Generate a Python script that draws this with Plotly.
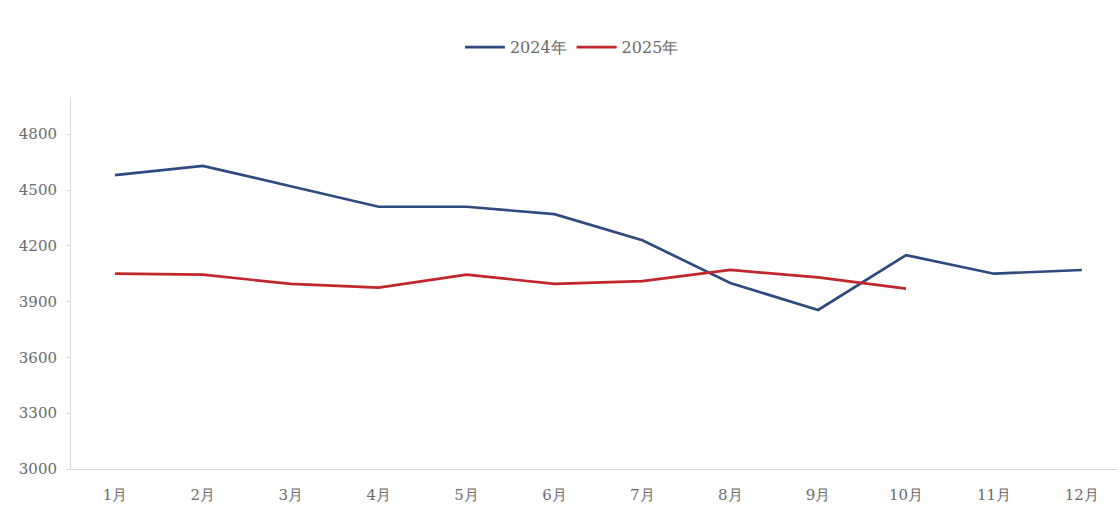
import plotly.graph_objects as go

months = ["1月", "2月", "3月", "4月", "5月", "6月", "7月", "8月", "9月", "10月", "11月", "12月"]
values_2024 = [4580, 4630, 4520, 4410, 4410, 4370, 4230, 4000, 3855, 4150, 4050, 4070]
values_2025 = [4050, 4045, 3995, 3975, 4045, 3995, 4010, 4070, 4030, 3970]
y_ticks = [3000, 3300, 3600, 3900, 4200, 4500, 4800]

font_family = "DejaVu Serif, Liberation Serif, serif"
text_color = "#6B6B6B"
axis_color = "#D9D9D9"

fig = go.Figure()
fig.add_trace(go.Scatter(
    x=months, y=values_2024, name="2024年", mode="lines",
    line=dict(color="#2E4A7E", width=2.7),
))
fig.add_trace(go.Scatter(
    x=months[:len(values_2025)], y=values_2025, name="2025年", mode="lines",
    line=dict(color="#C0272D", width=2.7),
))

fig.update_layout(
    width=1117, height=508,
    margin=dict(l=71, r=0, t=97, b=39),
    paper_bgcolor="white", plot_bgcolor="white",
    font=dict(family=font_family, size=15, color=text_color),
    showlegend=True,
    legend=dict(
        orientation="h", xref="container", yref="container",
        x=0.512, y=0.907, xanchor="center", yanchor="middle",
        font=dict(family=font_family, size=16, color=text_color),
        itemwidth=40, traceorder="normal",
    ),
    xaxis=dict(
        type="category", categoryorder="array", categoryarray=months,
        range=[-0.5, 11.4], showgrid=False, zeroline=False,
        showline=True, linecolor=axis_color, linewidth=1,
        ticks="", tickfont=dict(family=font_family, size=15, color=text_color),
        ticklabelstandoff=12,
    ),
    yaxis=dict(
        range=[3000, 5000], tickvals=y_ticks, ticktext=[str(v) for v in y_ticks],
        showgrid=False, zeroline=False,
        showline=True, linecolor=axis_color, linewidth=1,
        ticks="outside", ticklen=4, tickcolor=axis_color,
        tickfont=dict(family=font_family, size=15, color=text_color),
        ticklabelstandoff=6,
    ),
)

fig.write_html("out.html")
